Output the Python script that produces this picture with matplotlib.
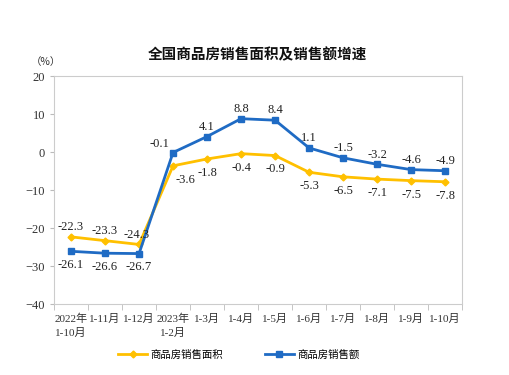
import matplotlib.pyplot as plt
import numpy as np

plt.rcParams['font.family'] = ['Liberation Serif', 'Noto Sans CJK SC']

categories = ['2022年\n1-10月', '1-11月', '1-12月', '2023年\n1-2月', '1-3月', '1-4月',
              '1-5月', '1-6月', '1-7月', '1-8月', '1-9月', '1-10月']
area = [-22.3, -23.3, -24.3, -3.6, -1.8, -0.4, -0.9, -5.3, -6.5, -7.1, -7.5, -7.8]
sales = [-26.1, -26.6, -26.7, -0.1, 4.1, 8.8, 8.4, 1.1, -1.5, -3.2, -4.6, -4.9]

yellow = '#FFC000'
blue = '#1F6BC4'

fig = plt.figure(figsize=(5.1, 3.75), dpi=100)
ax = fig.add_axes([0.106, 0.189, 0.80, 0.608])

x = np.arange(len(categories))
ax.plot(x, area, color=yellow, lw=2, marker='D', ms=3.5, label='商品房销售面积')
ax.plot(x, sales, color=blue, lw=2, marker='s', ms=4, label='商品房销售额')

# label offsets (points)
area_off = [(0, 7), (0, 7), (-2, 7), (9, -10), (0, -10), (0, -10), (0, -10),
            (0, -10), (0, -10), (0, -10), (0, -10), (0, -10)]
sales_off = [(0, -10), (0, -10), (0, -10), (-10, 6), (0, 7), (0, 7), (0, 7),
             (0, 7), (0, 7), (0, 7), (0, 7), (0, 7)]
for i in range(len(x)):
    ax.annotate(f'{area[i]}', (x[i], area[i]), xytext=area_off[i], textcoords='offset points',
                ha='center', va='center', fontsize=9, color='#222222')
    ax.annotate(f'{sales[i]}', (x[i], sales[i]), xytext=sales_off[i], textcoords='offset points',
                ha='center', va='center', fontsize=9, color='#222222')

ax.set_xlim(-0.5, len(x) - 0.5)
ax.set_ylim(-40, 20)
ax.set_yticks([-40, -30, -20, -10, 0, 10, 20])
ax.set_xticks(x)
ax.set_xticklabels(categories, fontsize=8, color='#333333', linespacing=1.4)
ax.set_xticks(np.arange(-0.5, len(x), 1), minor=True)
ax.tick_params(axis='x', which='major', length=0, pad=7)
ax.tick_params(axis='x', which='minor', length=4, color='#bbbbbb')
ax.tick_params(axis='y', length=3, color='#bbbbbb', labelsize=9, labelcolor='#333333')
for s in ax.spines.values():
    s.set_color('#cccccc')
    s.set_linewidth(0.8)

fig.text(0.505, 0.855, '全国商品房销售面积及销售额增速', ha='center', va='center',
         fontsize=10.5, fontweight='bold', family=['Noto Sans CJK SC'], color='#111111')
fig.text(0.09, 0.835, '（%）', ha='center', va='center', fontsize=7.5, color='#333333',
         family=['Noto Sans CJK SC'])

fig.legend(loc='center', bbox_to_anchor=(0.468, 0.055), ncol=2, frameon=False,
           fontsize=7.5, handlelength=2.8, handletextpad=0.3, columnspacing=4.0)

fig.savefig('out.png', dpi=100)
